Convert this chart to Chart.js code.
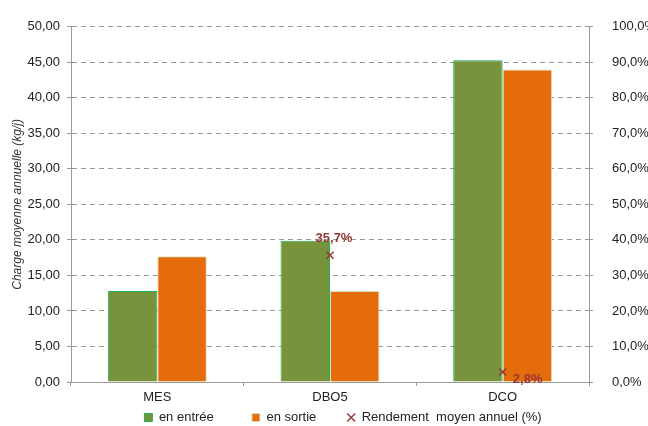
<!DOCTYPE html>
<html lang="fr">
<head>
<meta charset="UTF-8" />
<title>Charge moyenne annuelle</title>
<script src="https://cdn.jsdelivr.net/npm/chart.js@4.4.1/dist/chart.umd.min.js"></script>
<style>
  html, body { margin: 0; padding: 0; background: #fff; }
</style>
</head>
<body>
<canvas id="chargeChart" width="648" height="426"></canvas>
<script>
  // data
  var categories = ["MES", "DBO5", "DCO"];
  var chargeEntree = [12.8, 19.9, 45.3];
  var chargeSortie = [17.7, 12.8, 44.0];
  var rendement = [null, 35.7, 2.8];
  var seriesNames = ["en entrée", "en sortie", "Rendement  moyen annuel (%)"];
  var chargeMax = 50, chargeStep = 5;
  var pctMax = 100, pctStep = 10;

  var FONT = "'Liberation Sans', Arial, sans-serif";
  var TEXT = "#222";
  var AXIS = "#9a9a9a";

  function fmtCharge(v) { return v.toFixed(2).replace(".", ","); }
  function fmtPct(v) { return v.toFixed(1).replace(".", ",") + "%"; }

  // labels next to the rendement markers (offsets in px from the marker)
  var labelOffsets = [[0, 0], [4, -17], [25, 7]];
  var rendementLabels = {
    id: "rendementLabels",
    afterDatasetsDraw: function (chart) {
      var meta = chart.getDatasetMeta(2);
      var ctx = chart.ctx;
      ctx.save();
      ctx.font = "bold 13px " + FONT;
      ctx.fillStyle = "#953735";
      ctx.textAlign = "center";
      ctx.textBaseline = "middle";
      meta.data.forEach(function (pt, i) {
        if (rendement[i] == null) return;
        ctx.fillText(fmtPct(rendement[i]), pt.x + labelOffsets[i][0], pt.y + labelOffsets[i][1]);
      });
      ctx.restore();
    }
  };

  // legend row sits a bit left of centre in the original
  var legendShift = {
    id: "legendShift",
    afterLayout: function (chart) {
      chart.legend.left += 19;
      chart.legend.right += 19;
    }
  };

  var gaps = ["          ", "        ", ""];

  new Chart(document.getElementById("chargeChart"), {
    type: "bar",
    data: {
      labels: categories,
      datasets: [
        {
          label: seriesNames[0],
          data: chargeEntree,
          backgroundColor: "#77933C",
          borderColor: "#1FB25A",
          borderWidth: 1,
          pointStyle: "rect",
          yAxisID: "y",
          order: 1
        },
        {
          label: seriesNames[1],
          data: chargeSortie,
          backgroundColor: "#E46C0A",
          borderColor: "#D7E4BD",
          borderWidth: 1,
          pointStyle: "rect",
          yAxisID: "y",
          order: 1
        },
        {
          type: "line",
          label: seriesNames[2],
          data: rendement,
          yAxisID: "y1",
          showLine: false,
          pointStyle: "crossRot",
          pointRadius: 5,
          pointBorderWidth: 1.5,
          borderColor: "#953735",
          backgroundColor: "#953735",
          order: 0
        }
      ]
    },
    options: {
      responsive: false,
      animation: false,
      devicePixelRatio: 1,
      categoryPercentage: 0.573,
      barPercentage: 1,
      layout: { padding: { top: 24, left: 0, right: 0, bottom: 0 } },
      plugins: {
        tooltip: { enabled: false },
        legend: {
          position: "bottom",
          maxHeight: 17,
          labels: {
            usePointStyle: true,
            boxWidth: 8,
            boxHeight: 8,
            padding: 2,
            color: TEXT,
            font: { family: FONT, size: 13 },
            sort: function (a, b) { return a.datasetIndex - b.datasetIndex; },
            generateLabels: function (chart) {
              var items = Chart.defaults.plugins.legend.labels.generateLabels(chart);
              items.forEach(function (it) {
                it.text = seriesNames[it.datasetIndex] + gaps[it.datasetIndex];
              });
              return items;
            }
          }
        }
      },
      scales: {
        x: {
          grid: { drawOnChartArea: false, offset: true, tickLength: 4, color: AXIS },
          border: { color: AXIS, width: 1 },
          ticks: { color: TEXT, font: { family: FONT, size: 13, lineHeight: 1 }, padding: 5 }
        },
        y: {
          position: "left",
          min: 0,
          max: chargeMax,
          ticks: {
            stepSize: chargeStep,
            padding: 7,
            color: TEXT,
            font: { family: FONT, size: 13 },
            callback: function (v) { return fmtCharge(v); }
          },
          grid: { color: AXIS, tickLength: 4, tickColor: AXIS },
          border: { color: AXIS, width: 1, dash: [5, 4] },
          title: {
            display: true,
            text: "Charge moyenne annuelle (kg/j)",
            color: "#333",
            font: { family: FONT, size: 12, style: "italic" },
            padding: { top: 10, bottom: 0 }
          },
          afterFit: function (scale) { scale.width = 71; }
        },
        y1: {
          position: "right",
          min: 0,
          max: pctMax,
          ticks: {
            stepSize: pctStep,
            padding: 19,
            color: TEXT,
            font: { family: FONT, size: 13 },
            callback: function (v) { return fmtPct(v); }
          },
          grid: { drawOnChartArea: false, tickLength: 4, color: AXIS },
          border: { color: AXIS, width: 1 },
          afterFit: function (scale) { scale.width = 59; }
        }
      }
    },
    plugins: [rendementLabels, legendShift]
  });
</script>
</body>
</html>
